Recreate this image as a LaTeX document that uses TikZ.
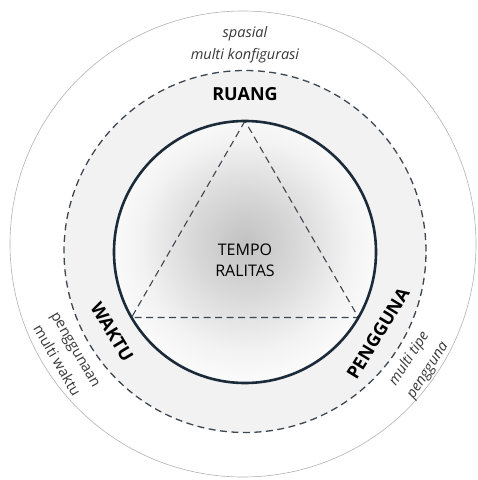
\documentclass[tikz,border=0pt]{standalone}
\usepackage{fontspec}
\setmainfont{Open Sans}
\usetikzlibrary{
  positioning,
  calc,
  }
\definecolor{navy}{HTML}{1B2B3A}
\definecolor{ringgray}{HTML}{F2F2F2}
\definecolor{dashgray}{HTML}{3C4650}
\definecolor{textgray}{HTML}{383838}
\pgfdeclareradialshading{tempobayang}{\pgfpoint{0bp}{2bp}}{
  color(0bp)=(black!24); color(10bp)=(black!15); color(20bp)=(black!5); color(25bp)=(black!2); color(50bp)=(black!2)}

\begin{document}
\begin{tikzpicture}[x=1pt, y=1pt,
    every node/.style={inner sep=0pt, align=center, font=\fontsize{16}{21}\selectfont},
    pilar/.style={font=\fontsize{18}{20}\selectfont\bfseries},
    ket/.style={text=textgray, font=\fontsize{14.5}{22}\selectfont},
    ketmiring/.style={text=textgray, font=\fontsize{14.5}{22}\selectfont\itshape},
    garis/.style={dashgray, line width=1.3pt, dash pattern=on 7pt off 4.5pt}]
                \useasboundingbox (-245,-228) rectangle (233,252);
                \draw[black!30, line width=0.6pt] (-2,8) circle (233pt);
                \fill[ringgray] (0,0.5) circle (181pt);
                \draw[garis] (0,0.5) circle (181pt);
                \shade[shading=tempobayang] (0,0) circle (131pt);
                \coordinate (puncak) at (90:131);
                \coordinate (kiri) at (210:131);
                \coordinate (kanan) at (330:131);
                \draw[garis, line width=1.1pt] (puncak) -- (kiri) -- (kanan) -- cycle;
                \draw[navy, line width=2.6pt] (0,0) circle (131pt);
                \node (tempo) at (0,-8) {TEMPO\\RALITAS};
                \node[pilar] (ruang) at (90:158) {RUANG};
                \node[pilar, rotate=-59] (waktu) at (211:155) {WAKTU};
                \node[pilar, rotate=58.5] (pengguna) at (-31.5:156) {PENGGUNA};
                \node[ketmiring] (spasial) at (90:207) {spasial\\multi konfigurasi};
                \node[ket, rotate=-60] (multiwaktu) at (210:207) {penggunaan\\multi waktu};
                \node[ketmiring, rotate=57] (multitipe) at (-33:207) {multi tipe\\pengguna};
            \end{tikzpicture}
\end{document}
